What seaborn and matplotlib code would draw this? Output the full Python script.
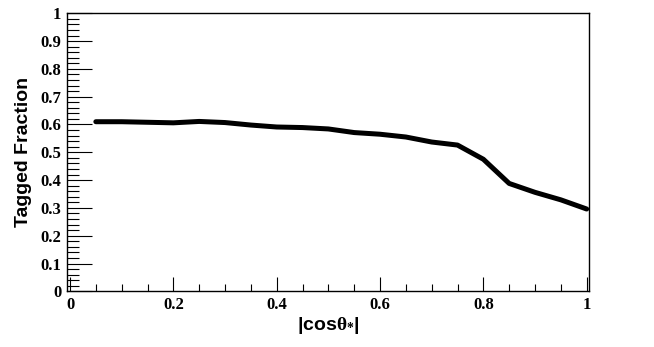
import numpy as np
import pandas as pd
import seaborn as sns
import matplotlib
matplotlib.use("Agg")
import matplotlib.pyplot as plt
from matplotlib.ticker import MultipleLocator, FuncFormatter

# |cos theta*| bin centres and tagged fraction
cos_theta = [0.05, 0.10, 0.15, 0.20, 0.25, 0.30, 0.35, 0.40, 0.45, 0.50,
             0.55, 0.60, 0.65, 0.70, 0.75, 0.80, 0.85, 0.90, 0.95, 1.00]
tagged_frac = [0.610, 0.610, 0.608, 0.606, 0.611, 0.607, 0.598, 0.591, 0.589, 0.584,
               0.571, 0.565, 0.555, 0.537, 0.526, 0.475, 0.388, 0.356, 0.329, 0.296]

df = pd.DataFrame({"cos": cos_theta, "frac": tagged_frac})

sns.set_style("ticks")
plt.rcParams["font.family"] = ["Liberation Serif"]
plt.rcParams["font.weight"] = "bold"
plt.rcParams["text.color"] = "black"
plt.rcParams["axes.labelcolor"] = "black"
plt.rcParams["xtick.color"] = "black"
plt.rcParams["ytick.color"] = "black"
plt.rcParams["mathtext.fontset"] = "custom"
plt.rcParams["mathtext.rm"] = "Liberation Serif"
plt.rcParams["mathtext.it"] = "Liberation Serif"
plt.rcParams["mathtext.bf"] = "Liberation Sans:bold"

fig = plt.figure(figsize=(6.54, 3.47), dpi=100)
ax = fig.add_axes([0.102, 0.1605, 0.799, 0.8012])

sns.lineplot(data=df, x="cos", y="frac", color="black", linewidth=3.6, ax=ax)

ax.set_xlim(-0.0064, 1.005)
ax.set_ylim(0, 1)

ax.xaxis.set_major_locator(MultipleLocator(0.2))
ax.xaxis.set_minor_locator(MultipleLocator(0.05))
ax.yaxis.set_major_locator(MultipleLocator(0.1))
ax.yaxis.set_minor_locator(MultipleLocator(0.02))
fmt = FuncFormatter(lambda v, p: f"{round(v, 2):g}")
ax.xaxis.set_major_formatter(fmt)
ax.yaxis.set_major_formatter(fmt)

ax.tick_params(axis="x", which="major", direction="in", length=10, width=0.8, pad=4,
               labelsize=12)
ax.tick_params(axis="x", which="minor", direction="in", length=5, width=0.8)
ax.tick_params(axis="y", which="major", direction="in", length=18, width=0.8, pad=4,
               labelsize=12)
ax.tick_params(axis="y", which="minor", direction="in", length=8.6, width=0.8)
ax.tick_params(top=False, right=False, which="both", colors="black")

for s in ax.spines.values():
    s.set_visible(True)
    s.set_linewidth(1.0)
    s.set_color("black")

ax.set_ylabel("Tagged Fraction", fontfamily="Liberation Sans", fontweight="bold", fontsize=14)
ax.yaxis.set_label_coords(-0.066, 0.5)
ax.set_xlabel(r"$\mathbf{|cos}\theta_{*}\mathbf{|}$", fontsize=14)
ax.xaxis.set_label_coords(0.5, -0.085)

fig.savefig("out.png", dpi=100)
